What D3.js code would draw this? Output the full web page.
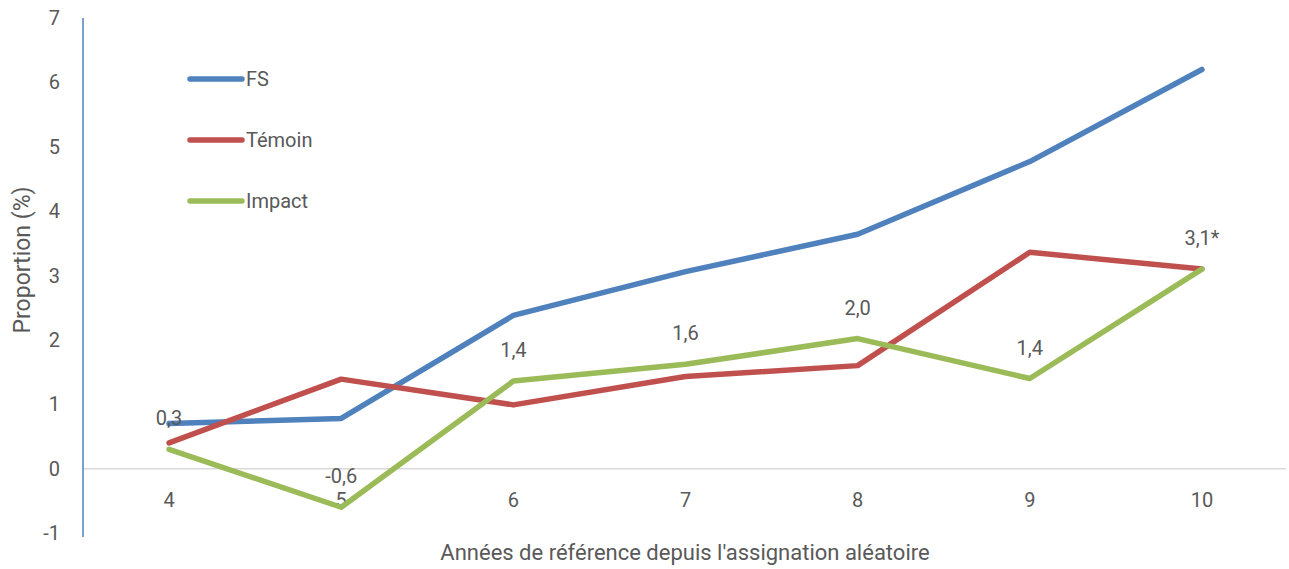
<!DOCTYPE html>
<meta charset="utf-8">
<script src="https://d3js.org/d3.v7.min.js"></script>
<style>
  body { margin: 0; background: #fff; }
  text { font-family: "Liberation Sans Narrow", "Arial Narrow", "Roboto", sans-serif; fill: #595959; }
</style>
<body>
<div id="chart"></div>
<script>

// chart data
var years = ["4", "5", "6", "7", "8", "9", "10"];
var fs = [0.70, 0.78, 2.38, 3.06, 3.64, 4.77, 6.20];
var temoin = [0.40, 1.39, 0.99, 1.43, 1.60, 3.36, 3.10];
var impact = [0.30, -0.60, 1.36, 1.62, 2.02, 1.40, 3.10];
var impactLabels = ["0,3", "-0,6", "1,4", "1,6", "2,0", "1,4", "3,1*"];
var yTicks = [-1, 0, 1, 2, 3, 4, 5, 6, 7];

var series = [
  {name: "FS", values: fs, color: "#4F81BD"},
  {name: "Témoin", values: temoin, color: "#C0504D"},
  {name: "Impact", values: impact, color: "#9BBB59"}
];

var W = 1289, H = 569;

var svg = d3.select("#chart")
  .append("svg")
    .attr("width", W)
    .attr("height", H);

var x = d3.scaleBand()
  .domain(years)
  .range([83, 1288]);

var y = d3.scaleLinear()
  .domain([-1, 7])
  .range([533, 18]);

// zero line
svg.append("line")
  .attr("x1", 83).attr("x2", 1286)
  .attr("y1", y(0)).attr("y2", y(0))
  .attr("stroke", "#d9d9d9")
  .attr("stroke-width", 1.5);

// y axis line
svg.append("line")
  .attr("x1", 83).attr("x2", 83)
  .attr("y1", y(7)).attr("y2", y(-1) + 4)
  .attr("stroke", "#4F81BD")
  .attr("stroke-width", 1.5);

// y tick labels
svg.selectAll(".ytick")
  .data(yTicks)
  .enter().append("text")
    .attr("x", 60)
    .attr("y", function(d) { return y(d); })
    .attr("dy", "0.35em")
    .attr("text-anchor", "end")
    .style("font-size", "20px")
    .text(function(d) { return d; });

// x tick labels
svg.selectAll(".xtick")
  .data(years)
  .enter().append("text")
    .attr("x", function(d) { return x(d) + x.bandwidth() / 2; })
    .attr("y", 500)
    .attr("dy", "0.35em")
    .attr("text-anchor", "middle")
    .style("font-size", "20px")
    .text(function(d) { return d; });

// axis titles
svg.append("text")
  .attr("transform", "translate(22,260) rotate(-90)")
  .attr("text-anchor", "middle")
  .attr("dy", "0.35em")
  .style("font-size", "23px")
  .text("Proportion (%)");

svg.append("text")
  .attr("x", 685)
  .attr("y", 552)
  .attr("dy", "0.35em")
  .attr("text-anchor", "middle")
  .style("font-size", "22px")
  .text("Années de référence depuis l'assignation aléatoire");

var line = d3.line()
  .x(function(d, i) { return x(years[i]) + x.bandwidth() / 2; })
  .y(function(d) { return y(d); });

svg.selectAll(".series")
  .data(series)
  .enter().append("path")
    .attr("fill", "none")
    .attr("stroke", function(d) { return d.color; })
    .attr("stroke-width", 5.5)
    .attr("stroke-linecap", "round")
    .attr("stroke-linejoin", "round")
    .attr("d", function(d) { return line(d.values); });

// data labels for impact
svg.selectAll(".lbl")
  .data(impact)
  .enter().append("text")
    .attr("x", function(d, i) { return x(years[i]) + x.bandwidth() / 2; })
    .attr("y", function(d) { return y(d) - 31; })
    .attr("dy", "0.35em")
    .attr("text-anchor", "middle")
    .style("font-size", "20px")
    .text(function(d, i) { return impactLabels[i]; });

// legend
var legend = svg.selectAll(".legend")
  .data(series)
  .enter().append("g")
    .attr("transform", function(d, i) { return "translate(190," + (79 + i * 61) + ")"; });

legend.append("line")
  .attr("x1", 0).attr("x2", 52)
  .attr("stroke", function(d) { return d.color; })
  .attr("stroke-width", 5.5)
  .attr("stroke-linecap", "round");

legend.append("text")
  .attr("x", 56)
  .attr("dy", "0.35em")
  .style("font-size", "20px")
  .text(function(d) { return d.name; });

</script>
</body>
</html>
